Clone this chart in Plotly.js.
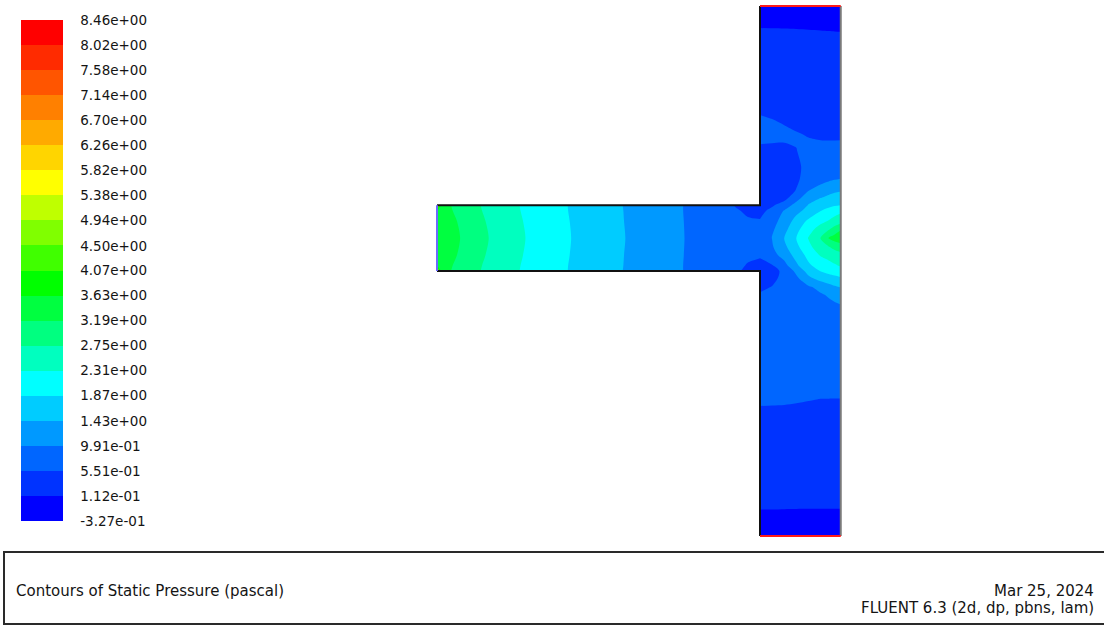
<!DOCTYPE html>
<html>
<head>
<meta charset="utf-8">
<script src="https://cdn.plot.ly/plotly-3.0.1.min.js"></script>
<style>
  html, body { margin: 0; padding: 0; background: #ffffff; }
  #plot { width: 1104px; height: 626px; }
</style>
</head>
<body>
<div id="plot"></div>
<script>
// Static pressure contour levels (Pa) and their labels
const levels = [-0.327, 0.112, 0.551, 0.991, 1.43, 1.87, 2.31, 2.75, 3.19, 3.63,
                4.07, 4.50, 4.94, 5.38, 5.82, 6.26, 6.70, 7.14, 7.58, 8.02, 8.46];
const levelLabels = ['-3.27e-01', '1.12e-01', '5.51e-01', '9.91e-01', '1.43e+00',
                     '1.87e+00', '2.31e+00', '2.75e+00', '3.19e+00', '3.63e+00',
                     '4.07e+00', '4.50e+00', '4.94e+00', '5.38e+00', '5.82e+00',
                     '6.26e+00', '6.70e+00', '7.14e+00', '7.58e+00', '8.02e+00', '8.46e+00'];
// One colour per band, lowest band first
const bandColors = ['#0000ff', '#0033ff', '#0066ff', '#0099ff', '#00ccff',
                    '#00ffff', '#00ffbf', '#00ff80', '#00ff40', '#00ff00',
                    '#40ff00', '#80ff00', '#bfff00', '#ffff00', '#ffd500',
                    '#ffaa00', '#ff8000', '#ff5500', '#ff2b00', '#ff0000'];

// Inlet (horizontal) channel: grid positions in mm and pressure in Pa
const inletX = [-40, -39.4, -38, -36, -34, -31, -27, -22, -17, -12, -8, -5, -3, -1.5, 0];
const inletY = [0, 0.7, 2, 4.1, 6.2, 7.5, 8.2];
const inletP = [
  [5.3, 3.35, 3.15, 2.91, 2.68, 2.41, 2.08, 1.75, 1.43, 1.14, 0.9, 0.76, 0.6, 0.48, 0.36],
  [3.6, 3.38, 3.18, 2.93, 2.70, 2.42, 2.09, 1.75, 1.435, 1.14, 0.9, 0.78, 0.66, 0.52, 0.45],
  [3.5, 3.44, 3.25, 2.99, 2.75, 2.45, 2.11, 1.76, 1.44, 1.145, 0.905, 0.84, 0.76, 0.64, 0.6],
  [3.55, 3.48, 3.30, 3.04, 2.79, 2.48, 2.13, 1.77, 1.45, 1.15, 0.91, 0.86, 0.84, 0.83, 0.84],
  [3.5, 3.44, 3.25, 2.99, 2.75, 2.45, 2.11, 1.76, 1.44, 1.145, 0.905, 0.84, 0.74, 0.6, 0.58],
  [3.6, 3.38, 3.18, 2.93, 2.70, 2.42, 2.09, 1.75, 1.435, 1.14, 0.9, 0.78, 0.6, 0.48, 0.45],
  [5.3, 3.35, 3.15, 2.91, 2.68, 2.41, 2.08, 1.75, 1.43, 1.14, 0.9, 0.76, 0.52, 0.42, 0.36]
];

// Main (vertical) channel with its two pressure outlets: grid in mm, pressure in Pa
const mainX = [0, 1.5, 3, 4.5, 6, 7.5, 8.5, 9.25, 10];
const mainY = [-33, -28, -22, -16, -10, -6.5, -4.5, -3, -2, -1, 0, 0.7, 2, 3, 4.1,
               5.2, 6.2, 7.5, 8.2, 9, 10, 11.5, 13, 15, 17, 21, 27, 33];
const mainP = [
  [0, 0, 0, 0, 0, 0, 0, 0, 0],
  [0.17, 0.17, 0.168, 0.167, 0.166, 0.165, 0.165, 0.165, 0.165],
  [0.37, 0.37, 0.37, 0.365, 0.36, 0.356, 0.355, 0.355, 0.355],
  [0.58, 0.578, 0.575, 0.568, 0.558, 0.549, 0.548, 0.547, 0.547],
  [0.67, 0.68, 0.69, 0.71, 0.73, 0.75, 0.76, 0.77, 0.77],
  [0.66, 0.67, 0.69, 0.72, 0.76, 0.8, 0.83, 0.85, 0.87],
  [0.62, 0.64, 0.67, 0.71, 0.76, 0.82, 0.87, 0.91, 0.94],
  [0.58, 0.6, 0.64, 0.7, 0.8, 0.94, 1.03, 1.1, 1.17],
  [0.5, 0.56, 0.64, 0.76, 0.93, 1.12, 1.28, 1.38, 1.45],
  [0.42, 0.5, 0.62, 0.88, 1.3, 1.55, 1.65, 1.72, 1.79],
  [0.36, 0.45, 0.62, 1.1, 1.6, 1.88, 2.0, 2.07, 2.13],
  [0.45, 0.53, 0.85, 1.35, 1.8, 2.05, 2.18, 2.27, 2.35],
  [0.6, 0.85, 1.15, 1.6, 2.0, 2.35, 2.45, 2.53, 2.6],
  [0.78, 0.95, 1.33, 1.76, 2.2, 2.55, 2.72, 2.88, 3.0],
  [0.84, 1.0, 1.44, 1.88, 2.33, 2.77, 3.2, 3.38, 3.45],
  [0.74, 0.92, 1.3, 1.75, 2.15, 2.48, 2.7, 2.92, 3.15],
  [0.58, 0.85, 1.15, 1.6, 1.95, 2.2, 2.34, 2.48, 2.6],
  [0.45, 0.65, 1.02, 1.3, 1.58, 1.86, 2.0, 2.12, 2.2],
  [0.36, 0.5, 0.75, 1.15, 1.45, 1.65, 1.75, 1.82, 1.87],
  [0.38, 0.4, 0.45, 0.85, 1.3, 1.45, 1.55, 1.62, 1.67],
  [0.4, 0.42, 0.47, 0.56, 0.98, 1.2, 1.3, 1.36, 1.4],
  [0.42, 0.43, 0.46, 0.52, 0.63, 0.8, 0.9, 0.95, 0.99],
  [0.45, 0.46, 0.48, 0.52, 0.6, 0.68, 0.75, 0.8, 0.85],
  [0.52, 0.52, 0.53, 0.55, 0.58, 0.6, 0.62, 0.64, 0.66],
  [0.6, 0.59, 0.575, 0.56, 0.545, 0.525, 0.51, 0.5, 0.49],
  [0.52, 0.51, 0.495, 0.47, 0.45, 0.43, 0.415, 0.405, 0.395],
  [0.245, 0.243, 0.24, 0.235, 0.228, 0.222, 0.217, 0.213, 0.21],
  [0, 0, 0, 0, 0, 0, 0, 0, 0]
];

// Boundary zones of the T-junction (mm)
const upperWallX = [-40, 0, 0],  upperWallY = [8.2, 8.2, 33];
const lowerWallX = [-40, 0, 0],  lowerWallY = [0, 0, -33];
const sideWallX = [10, 10],      sideWallY = [-33, 33];
const topOutletX = [0, 10],      topOutletY = [33, 33];
const bottomOutletX = [0, 10],   bottomOutletY = [-33, -33];
const inletEdgeX = [-40, -40],   inletEdgeY = [0, 8.2];

// Stepped colour scale: each band is a flat colour
const nBands = bandColors.length;
const stepScale = [];
bandColors.forEach((c, k) => {
  stepScale.push([k / nBands, c]);
  stepScale.push([(k + 1) / nBands, c]);
});
const levelStep = (levels[levels.length - 1] - levels[0]) / nBands;

const W = 1104, H = 626;
const px = v => v / W;
const py = v => 1 - v / H;
const textFont = { family: 'DejaVu Sans, Arial, sans-serif', color: '#141414' };

function contourTrace(x, y, z, withScale) {
  return {
    type: 'contour', x: x, y: y, z: z,
    zmin: levels[0], zmax: levels[levels.length - 1] + 1e-4,
    colorscale: stepScale,
    autocontour: false,
    contours: { start: levels[0], end: levels[levels.length - 1], size: levelStep,
                coloring: 'fill', showlines: false },
    line: { width: 0, smoothing: 0.85 },
    hoverinfo: 'skip',
    showscale: withScale,
    colorbar: withScale ? {
      x: px(21), xanchor: 'left', xpad: 0,
      y: py(20), yanchor: 'top', ypad: 0,
      len: 501, lenmode: 'pixels',
      thickness: 42, thicknessmode: 'pixels',
      outlinewidth: 0,
      tickmode: 'array', tickvals: levels, ticktext: levelLabels,
      ticks: 'outside', ticklen: 15, tickcolor: 'rgba(0,0,0,0)',
      tickfont: Object.assign({ size: 13.5 }, textFont)
    } : undefined
  };
}

function edge(x, y, color) {
  return { type: 'scatter', mode: 'lines', x: x, y: y,
           line: { color: color, width: 2 }, hoverinfo: 'skip', showlegend: false };
}

const data = [
  contourTrace(mainX, mainY, mainP, true),
  contourTrace(inletX, inletY, inletP, false),
  edge(upperWallX, upperWallY, '#111111'),
  edge(lowerWallX, lowerWallY, '#111111'),
  edge(sideWallX, sideWallY, '#7a7a7a'),
  edge(topOutletX, topOutletY, '#ff1a1a'),
  edge(bottomOutletX, bottomOutletY, '#ff1a1a'),
  edge(inletEdgeX, inletEdgeY, '#6a6aff')
];

// Axis ranges place 1 mm at ~8.05 px with the junction at the right spot
const layout = {
  width: W, height: H,
  margin: { l: 0, r: 0, t: 0, b: 0 },
  paper_bgcolor: '#ffffff', plot_bgcolor: '#ffffff',
  showlegend: false,
  xaxis: { range: [-94.118, 42.6], visible: false, fixedrange: true },
  yaxis: { range: [-44.208, 33.747], visible: false, fixedrange: true },
  shapes: [{
    type: 'rect', xref: 'paper', yref: 'paper',
    x0: px(4), x1: px(1110), y0: py(624), y1: py(552),
    line: { color: '#2a2a2a', width: 2 }, fillcolor: 'rgba(0,0,0,0)'
  }],
  annotations: [
    { text: 'Contours of Static Pressure (pascal)', xref: 'paper', yref: 'paper',
      x: px(14), y: py(591), xanchor: 'left', yanchor: 'middle', showarrow: false,
      font: Object.assign({ size: 15 }, textFont) },
    { text: 'Mar 25, 2024', xref: 'paper', yref: 'paper',
      x: px(1096), y: py(591), xanchor: 'right', yanchor: 'middle', showarrow: false,
      font: Object.assign({ size: 15 }, textFont) },
    { text: 'FLUENT 6.3 (2d, dp, pbns, lam)', xref: 'paper', yref: 'paper',
      x: px(1096), y: py(608), xanchor: 'right', yanchor: 'middle', showarrow: false,
      font: Object.assign({ size: 15 }, textFont) }
  ]
};

Plotly.newPlot('plot', data, layout, { staticPlot: true, displayModeBar: false });
</script>
</body>
</html>
